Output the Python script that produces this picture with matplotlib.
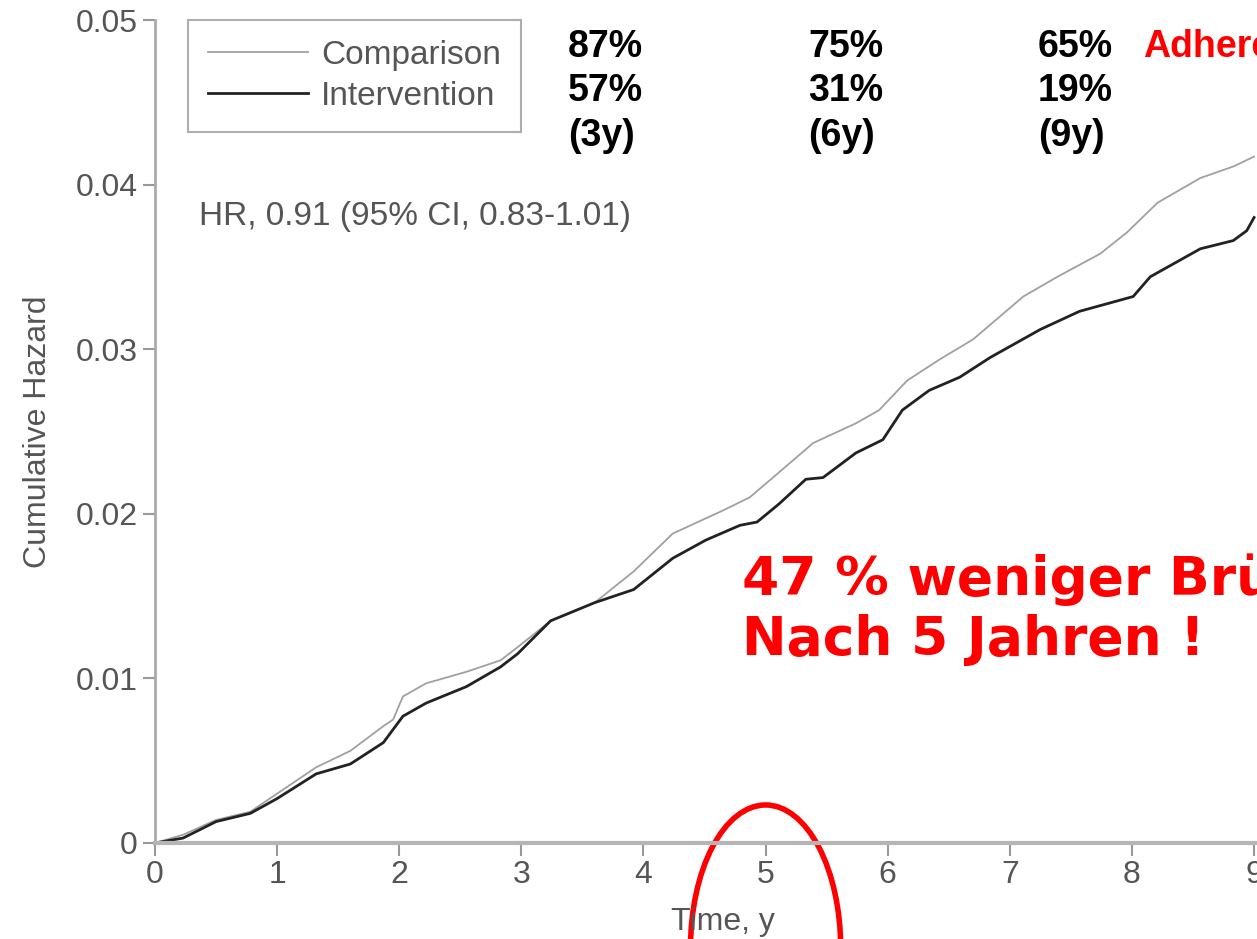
import matplotlib
matplotlib.use("Agg")
import matplotlib.pyplot as plt
from matplotlib.patches import Ellipse

plt.rcParams["font.family"] = ["Liberation Sans", "DejaVu Sans"]

# cumulative hazard
comp_t = [0, 0.23, 0.5, 0.78, 1.0, 1.32, 1.6, 1.87, 1.95, 2.03, 2.22, 2.55, 2.83, 2.97,
          3.24, 3.6, 3.92, 4.24, 4.65, 4.87, 5.06, 5.39, 5.74, 5.93, 6.16, 6.43, 6.70,
          7.11, 7.39, 7.74, 7.96, 8.21, 8.56, 8.83, 9.0]
comp_h = [0, 0.0005, 0.0014, 0.0019, 0.0030, 0.0046, 0.0056, 0.0071, 0.0075, 0.0089,
          0.0097, 0.0104, 0.0111, 0.0119, 0.0135, 0.0146, 0.0165, 0.0188, 0.0202, 0.0210,
          0.0222, 0.0243, 0.0255, 0.0263, 0.0281, 0.0294, 0.0306, 0.0332, 0.0344, 0.0358,
          0.0371, 0.0389, 0.0404, 0.0411, 0.0417]

int_t = [0, 0.23, 0.5, 0.78, 1.0, 1.32, 1.6, 1.87, 2.03, 2.22, 2.55, 2.83, 2.97, 3.24,
         3.6, 3.92, 4.24, 4.51, 4.79, 4.93, 5.11, 5.33, 5.47, 5.74, 5.96, 6.12, 6.34,
         6.59, 6.84, 7.25, 7.57, 8.01, 8.15, 8.56, 8.83, 8.94, 9.0]
int_h = [0, 0.0003, 0.0013, 0.0018, 0.0027, 0.0042, 0.0048, 0.0061, 0.0077, 0.0085,
         0.0095, 0.0107, 0.0115, 0.0135, 0.0146, 0.0154, 0.0173, 0.0184, 0.0193, 0.0195,
         0.0206, 0.0221, 0.0222, 0.0237, 0.0245, 0.0263, 0.0275, 0.0283, 0.0295, 0.0312,
         0.0323, 0.0332, 0.0344, 0.0361, 0.0366, 0.0372, 0.0380]

adh_top = ["87%", "75%", "65%"]
adh_bottom = ["57%", "31%", "19%"]
adh_years = ["(3y)", "(6y)", "(9y)"]

W, H = 1257, 939
fig = plt.figure(figsize=(W / 100, H / 100), dpi=100)
ax = fig.add_axes([155 / W, 96 / H, 0.9035, 823 / H])

gray_txt = "#555555"
ax.plot(comp_t, comp_h, color="#a0a0a0", lw=1.3, label="Comparison")
ax.plot(int_t, int_h, color="#222222", lw=2.0, label="Intervention")

ax.set_xlim(0, 9.3)
ax.set_ylim(0, 0.05)
ax.set_xticks(range(10))
ax.set_yticks([0, 0.01, 0.02, 0.03, 0.04, 0.05])
ax.set_yticklabels(["0", "0.01", "0.02", "0.03", "0.04", "0.05"])
ax.tick_params(colors="#999999", labelcolor=gray_txt, labelsize=23, length=9, width=1.5)
for s in ["top", "right"]:
    ax.spines[s].set_visible(False)
ax.spines["left"].set_color("#aaaaaa")
ax.spines["left"].set_linewidth(2)
ax.spines["bottom"].set_color("#b5b5b5")
ax.spines["bottom"].set_linewidth(3)
ax.set_xlabel("Time, y", fontsize=23, color=gray_txt, labelpad=12)
ax.set_ylabel("Cumulative Hazard", fontsize=23, color=gray_txt, labelpad=16)

leg = ax.legend(loc="upper left", bbox_to_anchor=(0.029, 1.0), borderaxespad=0,
                fontsize=24, frameon=True, fancybox=False, handlelength=3.0,
                borderpad=0.6, labelspacing=0.3, handletextpad=0.4)
leg.get_frame().set_edgecolor("#999999")
leg.get_frame().set_linewidth(1.5)
for t in leg.get_texts():
    t.set_color(gray_txt)

fig.text(199 / W, 1 - 216 / H, "HR, 0.91 (95% CI, 0.83-1.01)", fontsize=24,
         color=gray_txt, va="center")

# adherence numbers
cols = [568, 808, 1038]
for i, x in enumerate(cols):
    fig.text(x / W, 1 - 47 / H, adh_top[i], fontsize=27, fontweight="bold", va="center")
    fig.text(x / W, 1 - 91 / H, adh_bottom[i], fontsize=27, fontweight="bold", va="center")
    fig.text(x / W, 1 - 136 / H, adh_years[i], fontsize=27, fontweight="bold", va="center")
fig.text(1143 / W, 1 - 47 / H, "Adherence", fontsize=27, fontweight="bold",
         color="red", va="center")

fig.text(742 / W, 1 - 580 / H, "47 % weniger Brüche", fontsize=38.5, fontweight="bold",
         color="red", va="center", family="DejaVu Sans")
fig.text(742 / W, 1 - 640 / H, "Nach 5 Jahren !", fontsize=38.5, fontweight="bold",
         color="red", va="center", family="DejaVu Sans")

ell = Ellipse((5, -0.00638), width=1.23, height=0.01738, fill=False,
              edgecolor="red", lw=4, clip_on=False)
ax.add_patch(ell)

fig.savefig("out.png", dpi=100)
